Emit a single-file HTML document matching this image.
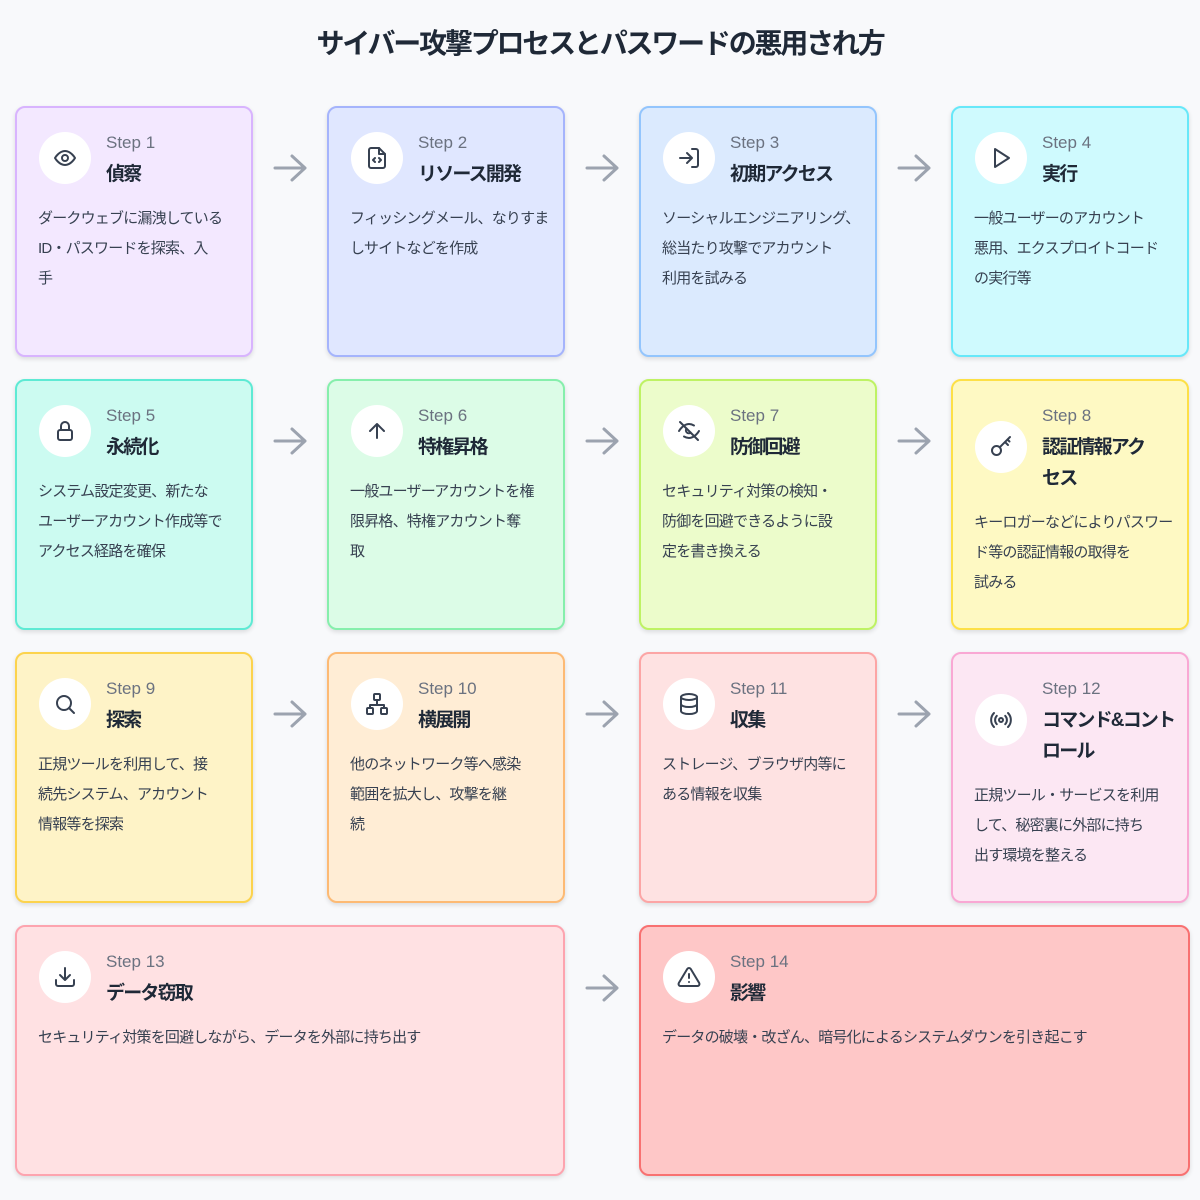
<!DOCTYPE html>
<html><head><meta charset="utf-8"><style>
body{margin:0;width:1200px;height:1200px;background:#f8f9fb;font-family:"Liberation Sans","Noto Sans CJK JP",sans-serif;position:relative;overflow:hidden;color:#1f2937}
h1{position:absolute;top:22px;left:0;width:1200px;text-align:center;margin:0;font-size:28px;font-weight:bold;color:#1f2937;letter-spacing:-2.2px}
.c{position:absolute;border:2px solid;border-radius:10px;box-sizing:border-box;box-shadow:0 2px 5px rgba(0,0,0,.12)}
.ic{position:absolute;left:22px;top:24px;width:52px;height:52px;border-radius:50%;background:#fff;display:flex;align-items:center;justify-content:center}
.ic svg{width:24px;height:24px;fill:none;stroke:#374151;stroke-width:2;stroke-linecap:round;stroke-linejoin:round}
.st{position:absolute;left:89px;top:25px;font-size:17px;color:#6b7280}
.tt{position:absolute;left:89px;top:51px;font-size:19px;font-weight:bold;line-height:31px;color:#1f2937;white-space:nowrap;letter-spacing:-1.8px}
.ds{position:absolute;left:21px;top:96px;font-size:15px;letter-spacing:-0.8px;line-height:30px;color:#374151;white-space:nowrap}
.ar{position:absolute;width:36px;height:30px}
.ar svg{width:36px;height:30px;fill:none;stroke:#9ca3af;stroke-width:3;stroke-linecap:round;stroke-linejoin:round}
</style></head><body>
<h1>サイバー攻撃プロセスとパスワードの悪用され方</h1>

<div class="c" style="left:15px;top:106px;width:238px;height:251px;background:#f3e8ff;border-color:#d8b4fe">
<div class="ic"><svg viewBox="0 0 24 24"><path d="M2 12s4-7 10-7 10 7 10 7-4 7-10 7S2 12 2 12z"/><circle cx="12" cy="12" r="3"/></svg></div>
<div class="st">Step 1</div><div class="tt">偵察</div>
<div class="ds">ダークウェブに漏洩している<br>ID・パスワードを探索、入<br>手</div></div>

<div class="c" style="left:327px;top:106px;width:238px;height:251px;background:#e0e7ff;border-color:#a5b4fc">
<div class="ic"><svg viewBox="0 0 24 24"><path d="M14 2H6a2 2 0 0 0-2 2v16a2 2 0 0 0 2 2h12a2 2 0 0 0 2-2V8z"/><path d="M14 2v6h6"/><path d="M10 12l-2 2 2 2M14 12l2 2-2 2"/></svg></div>
<div class="st">Step 2</div><div class="tt">リソース開発</div>
<div class="ds">フィッシングメール、なりすま<br>しサイトなどを作成</div></div>

<div class="c" style="left:639px;top:106px;width:238px;height:251px;background:#dbeafe;border-color:#93c5fd">
<div class="ic"><svg viewBox="0 0 24 24"><path d="M15 3h4a2 2 0 0 1 2 2v14a2 2 0 0 1-2 2h-4"/><path d="M10 17l5-5-5-5M15 12H3"/></svg></div>
<div class="st">Step 3</div><div class="tt">初期アクセス</div>
<div class="ds">ソーシャルエンジニアリング、<br>総当たり攻撃でアカウント<br>利用を試みる</div></div>

<div class="c" style="left:951px;top:106px;width:238px;height:251px;background:#cffafe;border-color:#67e8f9">
<div class="ic"><svg viewBox="0 0 24 24"><path d="M6 3l14 9-14 9z"/></svg></div>
<div class="st">Step 4</div><div class="tt">実行</div>
<div class="ds">一般ユーザーのアカウント<br>悪用、エクスプロイトコード<br>の実行等</div></div>

<div class="c" style="left:15px;top:379px;width:238px;height:251px;background:#ccfbf1;border-color:#5eead4">
<div class="ic"><svg viewBox="0 0 24 24"><rect x="5" y="11" width="14" height="10" rx="2"/><path d="M8 11V7a4 4 0 0 1 8 0v4"/></svg></div>
<div class="st">Step 5</div><div class="tt">永続化</div>
<div class="ds">システム設定変更、新たな<br>ユーザーアカウント作成等で<br>アクセス経路を確保</div></div>

<div class="c" style="left:327px;top:379px;width:238px;height:251px;background:#dcfce7;border-color:#86efac">
<div class="ic"><svg viewBox="0 0 24 24"><path d="M12 19V5M5 12l7-7 7 7"/></svg></div>
<div class="st">Step 6</div><div class="tt">特権昇格</div>
<div class="ds">一般ユーザーアカウントを権<br>限昇格、特権アカウント奪<br>取</div></div>

<div class="c" style="left:639px;top:379px;width:238px;height:251px;background:#ecfccb;border-color:#bef264">
<div class="ic"><svg viewBox="0 0 24 24"><path d="M2 12s4-7 10-7c2 0 3.5.6 5 1.5M22 12s-4 7-10 7c-2 0-3.5-.6-5-1.5"/><path d="M3 3l18 18"/><path d="M9.5 9.5a3 3 0 0 0 4.2 4.2"/></svg></div>
<div class="st">Step 7</div><div class="tt">防御回避</div>
<div class="ds">セキュリティ対策の検知・<br>防御を回避できるように設<br>定を書き換える</div></div>

<div class="c" style="left:951px;top:379px;width:238px;height:251px;background:#fef9c3;border-color:#fde047">
<div class="ic" style="top:40px"><svg viewBox="0 0 24 24"><circle cx="7.5" cy="15.5" r="4.5"/><path d="M10.7 12.3L21 2M16 7l3 3M18.5 4.5l2 2"/></svg></div>
<div class="st">Step 8</div><div class="tt">認証情報アク<br>セス</div>
<div class="ds" style="top:127px">キーロガーなどによりパスワー<br>ド等の認証情報の取得を<br>試みる</div></div>

<div class="c" style="left:15px;top:652px;width:238px;height:251px;background:#fef3c7;border-color:#fcd34d">
<div class="ic"><svg viewBox="0 0 24 24"><circle cx="11" cy="11" r="7"/><path d="M21 21l-5-5"/></svg></div>
<div class="st">Step 9</div><div class="tt">探索</div>
<div class="ds">正規ツールを利用して、接<br>続先システム、アカウント<br>情報等を探索</div></div>

<div class="c" style="left:327px;top:652px;width:238px;height:251px;background:#ffedd5;border-color:#fdba74">
<div class="ic"><svg viewBox="0 0 24 24"><rect x="9" y="2" width="6" height="6" rx="1"/><rect x="2" y="16" width="6" height="6" rx="1"/><rect x="16" y="16" width="6" height="6" rx="1"/><path d="M5 16v-3h14v3M12 8v5"/></svg></div>
<div class="st">Step 10</div><div class="tt">横展開</div>
<div class="ds">他のネットワーク等へ感染<br>範囲を拡大し、攻撃を継<br>続</div></div>

<div class="c" style="left:639px;top:652px;width:238px;height:251px;background:#fee2e2;border-color:#fca5a5">
<div class="ic"><svg viewBox="0 0 24 24"><ellipse cx="12" cy="5" rx="8" ry="3"/><path d="M4 5v14c0 1.7 3.6 3 8 3s8-1.3 8-3V5M4 12c0 1.7 3.6 3 8 3s8-1.3 8-3"/></svg></div>
<div class="st">Step 11</div><div class="tt">収集</div>
<div class="ds">ストレージ、ブラウザ内等に<br>ある情報を収集</div></div>

<div class="c" style="left:951px;top:652px;width:238px;height:251px;background:#fce7f3;border-color:#f9a8d4">
<div class="ic" style="top:40px"><svg viewBox="0 0 24 24"><circle cx="12" cy="12" r="2"/><path d="M16.2 7.8a6 6 0 0 1 0 8.4M7.8 16.2a6 6 0 0 1 0-8.4M19 5a10 10 0 0 1 0 14M5 19A10 10 0 0 1 5 5"/></svg></div>
<div class="st">Step 12</div><div class="tt">コマンド&amp;コント<br>ロール</div>
<div class="ds" style="top:127px">正規ツール・サービスを利用<br>して、秘密裏に外部に持ち<br>出す環境を整える</div></div>

<div class="c" style="left:15px;top:925px;width:550px;height:251px;background:#ffe1e3;border-color:#fda4af">
<div class="ic"><svg viewBox="0 0 24 24"><path d="M21 15v4a2 2 0 0 1-2 2H5a2 2 0 0 1-2-2v-4M7 10l5 5 5-5M12 15V3"/></svg></div>
<div class="st">Step 13</div><div class="tt">データ窃取</div>
<div class="ds">セキュリティ対策を回避しながら、データを外部に持ち出す</div></div>

<div class="c" style="left:639px;top:925px;width:551px;height:251px;background:#fec7c7;border-color:#f87171">
<div class="ic"><svg viewBox="0 0 24 24"><path d="M10.3 3.9L1.8 18a2 2 0 0 0 1.7 3h17a2 2 0 0 0 1.7-3L13.7 3.9a2 2 0 0 0-3.4 0z"/><path d="M12 9v4M12 17h.01"/></svg></div>
<div class="st">Step 14</div><div class="tt">影響</div>
<div class="ds">データの破壊・改ざん、暗号化によるシステムダウンを引き起こす</div></div>

<div class="ar" style="left:272px;top:153px"><svg viewBox="0 0 36 30"><path d="M3 15h30M20 3l13 12-13 12"/></svg></div>
<div class="ar" style="left:584px;top:153px"><svg viewBox="0 0 36 30"><path d="M3 15h30M20 3l13 12-13 12"/></svg></div>
<div class="ar" style="left:896px;top:153px"><svg viewBox="0 0 36 30"><path d="M3 15h30M20 3l13 12-13 12"/></svg></div>
<div class="ar" style="left:272px;top:426px"><svg viewBox="0 0 36 30"><path d="M3 15h30M20 3l13 12-13 12"/></svg></div>
<div class="ar" style="left:584px;top:426px"><svg viewBox="0 0 36 30"><path d="M3 15h30M20 3l13 12-13 12"/></svg></div>
<div class="ar" style="left:896px;top:426px"><svg viewBox="0 0 36 30"><path d="M3 15h30M20 3l13 12-13 12"/></svg></div>
<div class="ar" style="left:272px;top:699px"><svg viewBox="0 0 36 30"><path d="M3 15h30M20 3l13 12-13 12"/></svg></div>
<div class="ar" style="left:584px;top:699px"><svg viewBox="0 0 36 30"><path d="M3 15h30M20 3l13 12-13 12"/></svg></div>
<div class="ar" style="left:896px;top:699px"><svg viewBox="0 0 36 30"><path d="M3 15h30M20 3l13 12-13 12"/></svg></div>
<div class="ar" style="left:584px;top:973px"><svg viewBox="0 0 36 30"><path d="M3 15h30M20 3l13 12-13 12"/></svg></div>
</body></html>
